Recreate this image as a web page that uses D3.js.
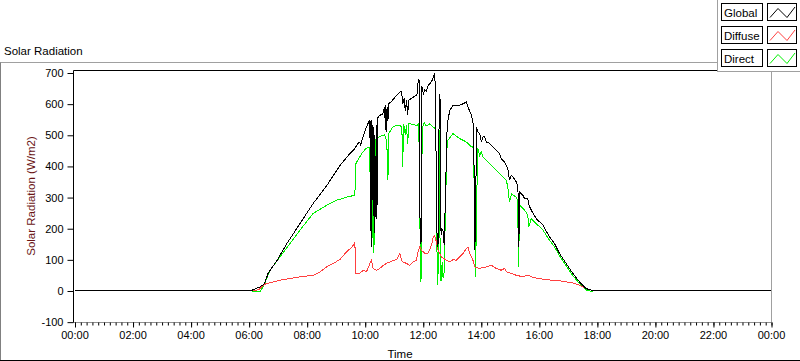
<!DOCTYPE html>
<html><head><meta charset="utf-8">
<script src="https://cdn.jsdelivr.net/npm/d3@7"></script>
<style>
body{margin:0;background:#fff;}
svg{display:block;font-family:"Liberation Sans",Arial,sans-serif;}
</style></head><body>
<svg id="c" width="800" height="361"></svg>
<script>
// ---- data (time in decimal hours, value in W/m2) ----
const timeTickLabels = ["00:00","02:00","04:00","06:00","08:00","10:00","12:00","14:00","16:00","18:00","20:00","22:00","00:00"];
const yTickValues = [-100,0,100,200,300,400,500,600,700];
const seriesNames = ["Global","Diffuse","Direct"];
const seriesColors = ["#000000","#ff4040","#00f000"];

const globalData = [
[0,0],[6.05,0],[6.12,1],[6.40,12],[6.55,22],[6.67,55],[6.98,97],[7.32,151],[7.77,215],[8.22,279],[8.70,338],[9.15,402],[9.49,440],[9.66,456],[9.77,472],[9.83,477],[9.86,465],[9.89,480],[10.04,520],[10.16,546],[10.18,490],[10.20,545],[10.22,140],[10.24,548],[10.27,505],[10.29,240],[10.31,525],[10.33,185],[10.35,500],[10.37,236],[10.40,530],[10.42,230],[10.45,555],[10.52,563],[10.62,565],[10.69,590],[10.71,515],[10.73,595],[10.76,509],[10.78,590],[10.80,545],[10.83,600],[10.90,605],[11.04,620],[11.21,637],[11.27,640],[11.31,598],[11.36,618],[11.40,575],[11.44,612],[11.48,565],[11.52,611],[11.66,620],[11.80,628],[11.85,680],[11.88,672],[11.91,160],[11.94,150],[11.97,655],[12.02,632],[12.07,645],[12.12,640],[12.17,655],[12.24,664],[12.31,672],[12.41,698],[12.44,640],[12.47,300],[12.50,140],[12.53,150],[12.57,630],[12.60,610],[12.63,180],[12.66,199],[12.70,190],[12.74,145],[12.78,300],[12.84,525],[12.87,547],[12.93,578],[13.04,595],[13.27,595],[13.40,600],[13.50,605],[13.56,589],[13.68,563],[13.73,541],[13.76,480],[13.79,129],[13.82,200],[13.85,525],[13.90,509],[13.96,504],[14.02,477],[14.08,495],[14.13,493],[14.19,477],[14.31,472],[14.48,456],[14.59,445],[14.65,440],[14.70,424],[14.82,413],[14.93,391],[14.99,354],[15.05,370],[15.11,365],[15.22,349],[15.28,332],[15.31,140],[15.34,316],[15.45,306],[15.51,295],[15.62,295],[15.66,274],[15.74,258],[15.91,231],[16.14,210],[16.37,172],[16.54,151],[16.71,119],[16.94,87],[17.17,55],[17.40,28],[17.63,6],[17.86,0],[24,0]
];

const diffuseData = [
[0,0],[6.05,0],[6.35,2],[6.45,12],[6.60,22],[7.08,33],[7.77,44],[8.23,49],[8.46,60],[8.69,76],[8.92,87],[9.15,100],[9.38,125],[9.55,138],[9.66,153],[9.70,55],[9.83,55],[9.95,65],[10.06,60],[10.18,87],[10.23,97],[10.29,71],[10.41,65],[10.52,71],[10.64,81],[10.75,87],[10.87,92],[10.98,97],[11.10,99],[11.21,119],[11.27,97],[11.32,92],[11.44,87],[11.55,81],[11.67,92],[11.78,97],[11.84,124],[11.90,140],[11.96,129],[12.07,119],[12.18,119],[12.30,145],[12.36,172],[12.41,177],[12.47,156],[12.53,129],[12.64,108],[12.81,97],[12.93,92],[13.04,99],[13.16,97],[13.27,108],[13.39,119],[13.50,135],[13.56,140],[13.62,119],[13.73,97],[13.79,76],[13.96,71],[14.19,76],[14.36,81],[14.53,71],[14.70,65],[14.82,71],[14.88,60],[15.05,55],[15.22,49],[15.45,44],[15.62,49],[15.80,42],[16.02,38],[16.25,35],[16.48,33],[16.71,31],[16.94,28],[17.17,24],[17.40,17],[17.63,6],[17.86,0],[24,0]
];

const directData = [
[0,0],[6.05,0],[6.15,-3],[6.40,-3],[6.50,12],[6.60,33],[6.74,65],[7.08,108],[7.43,151],[7.77,194],[8.22,247],[8.70,274],[9.04,290],[9.39,300],[9.66,306],[9.70,408],[9.77,420],[9.90,440],[10.04,456],[10.15,460],[10.18,380],[10.20,462],[10.22,160],[10.24,470],[10.27,400],[10.29,119],[10.31,470],[10.34,145],[10.37,488],[10.40,350],[10.43,488],[10.52,495],[10.69,500],[10.76,480],[10.80,354],[10.83,505],[10.97,525],[11.10,530],[11.21,530],[11.28,525],[11.31,397],[11.34,536],[11.40,500],[11.44,530],[11.48,470],[11.52,536],[11.66,533],[11.80,530],[11.86,536],[11.89,380],[11.92,28],[11.95,40],[11.98,520],[12.05,540],[12.12,528],[12.24,535],[12.35,525],[12.44,520],[12.47,397],[12.50,17],[12.53,60],[12.57,515],[12.60,100],[12.63,30],[12.67,90],[12.70,40],[12.74,60],[12.79,300],[12.84,470],[12.87,482],[13.04,504],[13.27,488],[13.50,477],[13.68,461],[13.73,461],[13.76,400],[13.82,44],[13.86,300],[13.90,456],[13.96,434],[14.02,445],[14.07,429],[14.19,418],[14.42,397],[14.65,375],[14.88,354],[14.93,332],[14.99,284],[15.06,310],[15.22,300],[15.27,290],[15.30,76],[15.34,274],[15.51,258],[15.62,242],[15.65,204],[15.74,231],[15.91,215],[16.14,194],[16.37,161],[16.54,140],[16.71,112],[16.94,80],[17.17,48],[17.40,22],[17.63,2],[17.80,-3],[17.95,0],[24,0]
];

// ---- drawing ----
const svg = d3.select("#c");
const L = 73.5, R = 771.5, T = 70.5, B = 322.5;
const x = d3.scaleLinear().domain([0,24]).range([74.5, 771]);
const y = d3.scaleLinear().domain([0,700]).range([290.5, 72.5]);

// outer frame
svg.append("line").attr("x1",0).attr("x2",717).attr("y1",62.5).attr("y2",62.5).attr("stroke","#a0a0a0");
svg.append("line").attr("x1",0.5).attr("x2",0.5).attr("y1",62.5).attr("y2",361).attr("stroke","#808080");
svg.append("line").attr("x1",0).attr("x2",800).attr("y1",360.5).attr("y2",360.5).attr("stroke","#000");

// title
svg.append("text").attr("x",4).attr("y",55).attr("font-size","11.5px").attr("fill","#000").text("Solar Radiation");

// plot background + clip
svg.append("rect").attr("x",L).attr("y",T).attr("width",R-L).attr("height",B-T).attr("fill","#fff");
svg.append("defs").append("clipPath").attr("id","clip")
  .append("rect").attr("x",L).attr("y",T).attr("width",R-L).attr("height",B-T);

const line = d3.line().x(d=>x(d[0])).y(d=>y(d[1]));
const g = svg.append("g").attr("clip-path","url(#clip)");
const order = [[directData,2],[diffuseData,1],[globalData,0]];
order.forEach(([data,i])=>{
  g.append("path").datum(data).attr("d",line).attr("fill","none")
   .attr("stroke",seriesColors[i]).attr("stroke-width",1).attr("stroke-linejoin","miter")
   .attr("shape-rendering","crispEdges");
});

// borders
svg.append("line").attr("x1",L).attr("x2",R).attr("y1",T).attr("y2",T).attr("stroke","#000");
svg.append("line").attr("x1",R).attr("x2",R).attr("y1",T).attr("y2",B).attr("stroke","#a0a0a0");
svg.append("line").attr("x1",L).attr("x2",R).attr("y1",B).attr("y2",B).attr("stroke","#909090");
svg.append("line").attr("x1",L).attr("x2",L).attr("y1",T).attr("y2",B).attr("stroke","#000");

// y axis
const yAxis = d3.axisLeft(y).tickValues(yTickValues).tickSize(6).tickPadding(4).tickFormat(d=>String(d));
const ya = svg.append("g").attr("transform",`translate(${L},0)`).call(yAxis);
ya.select(".domain").remove();
ya.selectAll("line").attr("stroke","#000").attr("transform","translate(0,0.5)");
ya.selectAll("text").attr("font-size","11px").attr("font-family","Liberation Sans, Arial, sans-serif").attr("fill","#000").attr("dy","0.36em");

// x axis (minor + major)
const minorVals = d3.range(0,121).map(i=>i*0.2);
const xMinor = d3.axisBottom(x).tickValues(minorVals).tickSize(3).tickFormat("");
const xm = svg.append("g").attr("transform",`translate(0,${B})`).call(xMinor);
xm.select(".domain").remove();
xm.selectAll("line").attr("stroke","#000").attr("transform","translate(0.5,0)");
const majorVals = d3.range(0,25,2);
const xMajor = d3.axisBottom(x).tickValues(majorVals).tickSize(5).tickPadding(4).tickFormat((d,i)=>timeTickLabels[i]);
const xa = svg.append("g").attr("transform",`translate(0,${B})`).call(xMajor);
xa.select(".domain").remove();
xa.selectAll("line").attr("stroke","#000").attr("transform","translate(0.5,0)");
xa.selectAll("text").attr("font-size","11px").attr("font-family","Liberation Sans, Arial, sans-serif").attr("fill","#000");

// axis titles
svg.append("text").attr("x",400).attr("y",358).attr("text-anchor","middle").attr("font-size","11.5px").attr("fill","#000").text("Time");
svg.append("text").attr("transform","translate(35,196) rotate(-90)").attr("text-anchor","middle")
  .attr("font-size","11.5px").attr("fill","#6a1515").text("Solar Radiation (W/m2)");

// legend
const lg = svg.append("g");
lg.append("rect").attr("x",717.5).attr("y",-1).attr("width",90).attr("height",72.5).attr("fill","#fff").attr("stroke","#a0a0a0");
const rowY = [3.5,26.5,49.5];
seriesNames.forEach((name,i)=>{
  const yy = rowY[i];
  lg.append("rect").attr("x",721.5).attr("y",yy).attr("width",41).attr("height",17).attr("fill","#fff").attr("stroke","#000");
  lg.append("text").attr("x",724).attr("y",yy+13).attr("font-size","11.5px").attr("fill","#000").text(name);
  lg.append("rect").attr("x",767.5).attr("y",yy).attr("width",29).attr("height",17).attr("fill","#fff").attr("stroke","#000");
  const pts = [[770,yy+14],[778,yy+5],[787,yy+14],[795,yy+3.5]];
  lg.append("path").attr("d",d3.line()(pts)).attr("fill","none").attr("stroke",seriesColors[i]).attr("stroke-width",1);
});
</script>
</body></html>
